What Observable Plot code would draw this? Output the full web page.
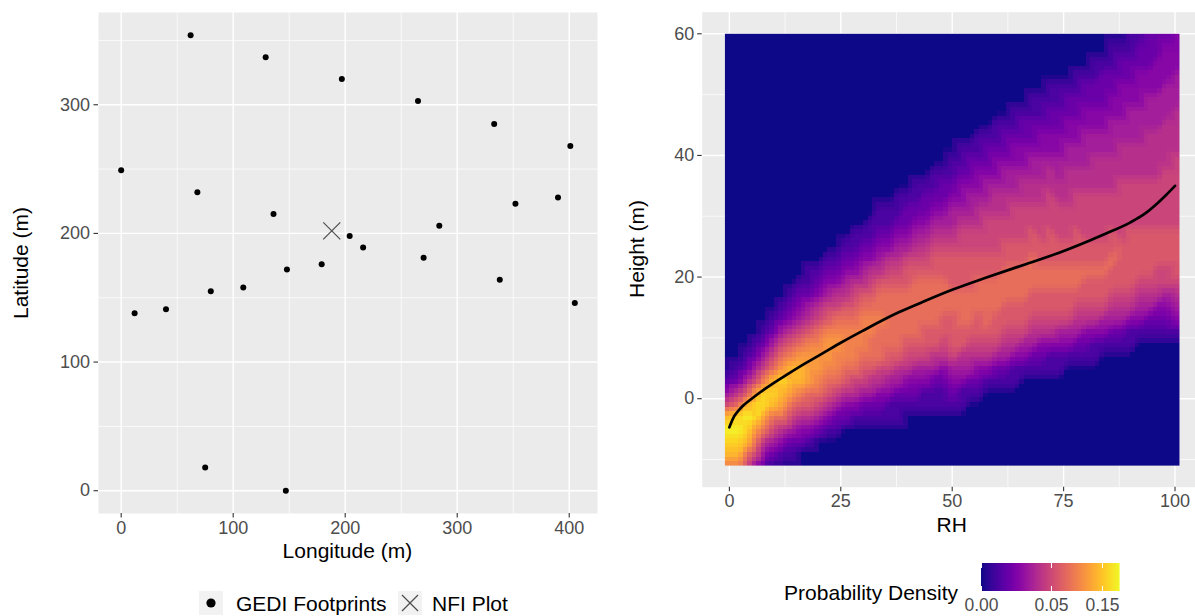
<!DOCTYPE html>
<html>
<head>
<meta charset="utf-8">
<script src="https://cdn.jsdelivr.net/npm/d3@7"></script>
<script src="https://cdn.jsdelivr.net/npm/@observablehq/plot@0.6"></script>
<style>
  html, body { margin: 0; padding: 0; background: #ffffff; overflow: hidden; width: 1195px; height: 616px; }
  #root { position: relative; width: 1195px; height: 616px; overflow: hidden; font-family: "Liberation Sans", Arial, Helvetica, sans-serif; }
  .t { position: absolute; white-space: nowrap; line-height: 1; color: #000; font-size: 21px; }
  .c { transform: translate(-50%, -50%); }
  .r90 { transform: translate(-50%, -50%) rotate(-90deg); }
  .key { position: absolute; width: 24px; height: 24px; background: #f2f2f2; }
</style>
</head>
<body>
<div id="root"></div>
<script>
// ---------------- DATA ----------------
// Left panel: GEDI footprints and NFI plot position (m)
const gediLon = [62, 129, 0, 68, 136, 148, 197, 265, 333, 401, 390, 352, 284, 204, 216, 270, 179, 338, 405, 12, 40, 80, 109, 75, 147];
const gediLat = [354, 337, 249, 232, 215, 172, 320, 303, 285, 268, 228, 223, 206, 198, 189, 181, 176, 164, 146, 138, 141, 155, 158, 18, 0];
const nfiLon = [188];
const nfiLat = [202];
const lonTicks = [0, 100, 200, 300, 400];
const latTicks = [0, 100, 200, 300];
const lonMinor = [50, 150, 250, 350];
const latMinor = [50, 150, 250, 350];

// Right panel: mean height curve against RH
const curveRH = [0, 1, 2, 3, 5, 7, 10, 13, 17, 21, 25, 30, 38, 44, 50, 58, 66, 74, 84, 90, 93, 96, 98, 100];
const curveHeight = [-4.7, -3.0, -2.0, -1.2, 0.0, 1.1, 2.6, 4.0, 5.8, 7.5, 9.2, 11.2, 14.2, 16.1, 17.9, 20.0, 22.0, 24.0, 27.0, 29.0, 30.3, 32.1, 33.5, 35.0];
const rhTicks = [0, 25, 50, 75, 100];
const heightTicks = [0, 20, 40, 60];
const rhMinor = [12.5, 37.5, 62.5, 87.5];
const heightMinor = [-10, 10, 30, 50];

// Probability density read column by column (RH positions, first/last at the heatmap edges),
// from the bottom edge (-11 m) upward; row positions in m (last one at the top edge)
const densityRH = [-1,2,4,6,8,10,12,14,16,18,20,22,24,26,28,30,32,34,36,38,40,42,44,46,48,50,52,54,56,58,60,62,64,66,68,70,72,74,76,78,80,82,84,86,88,90,92,94,96,98,101];
const heightRows = [-11,-9,-7,-5,-3,-1,1,3,5,7,9,11,13,15,17,19,21,23,25,27,29,31,33,35,37,39,41,43,45,47,49,51,53,55,57,60];
const levelKey = "0123456789abcd";
const levelDensity = [0, 0.003, 0.008, 0.015, 0.025, 0.035, 0.048, 0.062, 0.078, 0.095, 0.115, 0.14, 0.165, 0.19];
const densityStart = [0,0,0,0,0,1,1,1,2,2,3,3,3,4,4,4,4,4,4,4,5,5,5,5,5,5,5,6,6,7,7,7,7,8,8,8,8,8,9,9,9,9,10,10,10,10,11,11,11,11,11];
const densityLevels = [
  "9bcdb631",
  "9bcdc8521",
  "68bcdb7421",
  "368acca6421",
  "1358acc96421",
  "2468bcb86421",
  "1358abca86421",
  "12468abb975321",
  "23579bba864321",
  "13578aaa9754211",
  "24689aa9865321",
  "135789aa9764321",
  "1246899a9865321",
  "235789998754321",
  "1356899987653211",
  "1246789998754321",
  "12457889987653211",
  "123568889887543211",
  "113467888887653211",
  "1124578888876543211",
  "123567888877643221",
  "1234678888876543211",
  "1134677888876543221",
  "11245778888776543211",
  "11235677888776543221",
  "123467778877765443211",
  "1134577888777665433211",
  "124567888777665443221",
  "1235677888776655433211",
  "135678888776665443221",
  "1246778887766655433211",
  "1245677888776655443221",
  "11356778887766654433211",
  "1346778887766655433221",
  "12456778887766554432211",
  "12356778877666554433211",
  "113567788777666554332211",
  "113467788776665544332211",
  "13467788776665554433221",
  "124567887776665544332211",
  "123567787766665544433221",
  "1135677877666655544332211",
  "134677877666655544332221",
  "1245677877666555444332211",
  "1245677776666655544333221",
  "11356777776666555444332211",
  "1345677776666555444333221",
  "1245677776666555544433222",
  "1235667776666555544433322",
  "1234667776666655554443332",
  "1345677776666665555444333"
];
const densityDomain = [0, 0.197];
const colorbarTicks = [0, 0.05, 0.15];

// ---------------- BUILD ----------------
const FONT = "'Liberation Sans', Arial, Helvetica, sans-serif";
const root = document.getElementById("root");

function addText(str, x, y, cls, extra) {
  const d = document.createElement("div");
  d.className = "t " + cls;
  d.textContent = str;
  d.style.left = x + "px";
  d.style.top = y + "px";
  if (extra) Object.assign(d.style, extra);
  root.appendChild(d);
  return d;
}
function place(el, left, top) {
  el.style.position = "absolute";
  el.style.left = left + "px";
  el.style.top = top + "px";
  root.appendChild(el);
  return el;
}

const gedi = gediLon.map((lon, i) => ({lon, lat: gediLat[i]}));
const nfi = nfiLon.map((lon, i) => ({lon, lat: nfiLat[i]}));

const axisStyle = {tickSize: 4.5, tickPadding: 3, stroke: "#333333", strokeWidth: 1.1, fill: "#4d4d4d", label: null, fontSize: 18};

const leftPlot = Plot.plot({
  width: 600, height: 565,
  marginLeft: 98, marginRight: 3, marginTop: 12, marginBottom: 52,
  style: {fontFamily: FONT, fontSize: "18px", background: "transparent", overflow: "visible"},
  x: {domain: [-20.25, 425.25]},
  y: {domain: [-17.7, 371.7]},
  marks: [
    Plot.frame({fill: "#ebebeb", stroke: "none"}),
    Plot.ruleX(lonMinor, {stroke: "#ffffff", strokeWidth: 0.7}),
    Plot.ruleY(latMinor, {stroke: "#ffffff", strokeWidth: 0.7}),
    Plot.ruleX(lonTicks, {stroke: "#ffffff", strokeWidth: 1.4}),
    Plot.ruleY(latTicks, {stroke: "#ffffff", strokeWidth: 1.4}),
    Plot.axisX({ticks: lonTicks, ...axisStyle}),
    Plot.axisY({ticks: latTicks, ...axisStyle, tickPadding: 4}),
    Plot.dot(gedi, {x: "lon", y: "lat", r: 3, fill: "#000000", stroke: "none"}),
    Plot.dot(nfi, {x: "lon", y: "lat", symbol: "times", r: 7.8, stroke: "#4d4d4d", strokeWidth: 1.2})
  ]
});
place(leftPlot, 0, 0);

// density samples
const cells = [];
densityRH.forEach((rh, j) => {
  const s = densityStart[j], str = densityLevels[j];
  heightRows.forEach((h, i) => {
    const k = i - s;
    const ch = (k >= 0 && k < str.length) ? str[k] : "0";
    cells.push({rh, h, d: levelDensity[levelKey.indexOf(ch)]});
  });
});
const curve = curveRH.map((rh, i) => ({rh, h: curveHeight[i]}));

const rightPlot = Plot.plot({
  width: 605, height: 565,
  marginLeft: 101.7, marginRight: 3.3, marginTop: 11.7, marginBottom: 78.3,
  style: {fontFamily: FONT, fontSize: "18px", background: "transparent", overflow: "visible"},
  x: {domain: [-6.1, 106.1]},
  y: {domain: [-14.55, 63.55]},
  color: {type: "sqrt", scheme: "plasma", domain: densityDomain},
  marks: [
    Plot.frame({fill: "#ebebeb", stroke: "none"}),
    Plot.ruleX(rhMinor, {stroke: "#ffffff", strokeWidth: 0.7}),
    Plot.ruleY(heightMinor, {stroke: "#ffffff", strokeWidth: 0.7}),
    Plot.ruleX(rhTicks, {stroke: "#ffffff", strokeWidth: 1.4}),
    Plot.ruleY(heightTicks, {stroke: "#ffffff", strokeWidth: 1.4}),
    Plot.raster(cells, {x: "rh", y: "h", fill: "d", x1: -1, x2: 101, y1: -11, y2: 60, width: 102, height: 95, interpolate: "barycentric", imageRendering: "pixelated"}),
    Plot.line(curve, {x: "rh", y: "h", stroke: "#000000", strokeWidth: 2.7, curve: "monotone-x"}),
    Plot.axisX({ticks: rhTicks, ...axisStyle}),
    Plot.axisY({ticks: heightTicks, ...axisStyle, tickPadding: 3.5})
  ]
});
place(rightPlot, 600, 0);

// axis titles
addText("Latitude (m)", 20, 262.5, "r90");
addText("Longitude (m)", 347.4, 550, "c");
addText("Height (m)", 636, 249.2, "r90");
addText("RH", 951.7, 524, "c");

// left legend
function keyBox(left, drawer) {
  const box = document.createElement("div");
  box.className = "key";
  box.style.left = left + "px";
  box.style.top = "591px";
  const ns = "http://www.w3.org/2000/svg";
  const svg = document.createElementNS(ns, "svg");
  svg.setAttribute("width", 24); svg.setAttribute("height", 24);
  drawer(svg, ns);
  box.appendChild(svg);
  root.appendChild(box);
}
keyBox(199, (svg, ns) => {
  const c = document.createElementNS(ns, "circle");
  c.setAttribute("cx", 12); c.setAttribute("cy", 12); c.setAttribute("r", 4.6); c.setAttribute("fill", "#000");
  svg.appendChild(c);
});
keyBox(398, (svg, ns) => {
  const p = document.createElementNS(ns, "path");
  p.setAttribute("d", "M4,4L20,20M20,4L4,20");
  p.setAttribute("stroke", "#4d4d4d"); p.setAttribute("stroke-width", 1.2); p.setAttribute("fill", "none");
  svg.appendChild(p);
});
addText("GEDI Footprints", 236, 603, "", {transform: "translateY(-50%)"});
addText("NFI Plot", 432, 603, "", {transform: "translateY(-50%)"});

// right colour bar legend
const bar = Plot.legend({
  color: {type: "sqrt", scheme: "plasma", domain: densityDomain},
  label: null,
  ticks: colorbarTicks,
  tickFormat: ".2f",
  tickSize: 4.4,
  width: 178.6, height: 52,
  marginLeft: 20, marginRight: 20, marginTop: 0, marginBottom: 24,
  style: {fontFamily: FONT, fontSize: "17.5px", color: "#4d4d4d", background: "transparent", overflow: "visible"}
});
bar.querySelectorAll(".tick line").forEach(l => {
  l.setAttribute("stroke", "#ffffff");
  l.setAttribute("stroke-width", "1");
  l.setAttribute("stroke-dasharray", "5 18 5 200");
});
place(bar, 960.7, 563);
addText("Probability Density", 0, 592, "", {left: "auto", right: (1195 - 958) + "px", transform: "translateY(-50%)"});
</script>
</body>
</html>
